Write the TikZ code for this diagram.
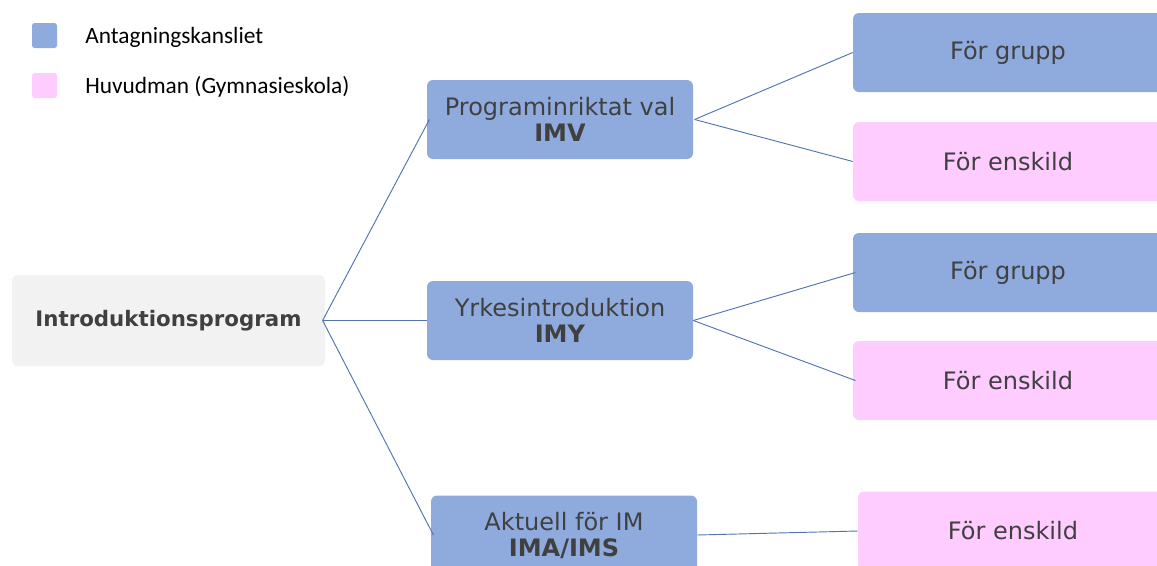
\documentclass[tikz,border=0pt]{standalone}
\usepackage{fontspec}
\setmainfont{DejaVu Sans}
\newfontfamily\legendfont{Carlito}
\definecolor{boxblue}{HTML}{8FAADC}
\definecolor{boxpink}{HTML}{FFCCFF}
\definecolor{boxgray}{HTML}{F2F2F2}
\definecolor{linkblue}{HTML}{5273B0}
\definecolor{txt}{HTML}{404040}
\tikzset{
  base/.style={rounded corners=4.5pt, inner sep=0pt, align=center, text=txt, font=\fontsize{18}{19.5}\selectfont},
  midbox/.style={base, fill=boxblue, minimum width=199.5pt, minimum height=59.25pt},
  bluebox/.style={base, fill=boxblue, minimum width=232.5pt, minimum height=59.25pt},
  pinkbox/.style={base, fill=boxpink, minimum width=232.5pt, minimum height=59.25pt},
  rootbox/.style={base, fill=boxgray, minimum width=234.75pt, minimum height=68.25pt, font=\fontsize{16}{19}\selectfont\bfseries},
  link/.style={draw=linkblue, line width=0.7pt},
  legsq/.style={rounded corners=2pt, minimum width=18.75pt, minimum height=18.75pt, inner sep=0pt},
  legtxt/.style={anchor=west, text=black, inner sep=0pt, font=\legendfont\fontsize{17.5}{20}\selectfont}
}
\begin{document}
\begin{tikzpicture}[x=0.75pt, y=-0.75pt]
\useasboundingbox (0,0) rectangle (1157,565);
\clip (0,0) rectangle (1157,565);
% legend
\node[legsq, fill=boxblue] (lb) at (44.5,35.5) {};
\node[legtxt] (lbt) at (85,37) {Antagningskansliet};
\node[legsq, fill=boxpink] (lp) at (44.5,85.5) {};
\node[legtxt] (lpt) at (85,87) {Huvudman (Gymnasieskola)};
% nodes
\node[rootbox] (intro) at (168.5,320.5) {Introduktionsprogram};
\node[midbox] (imv) at (560,119.5) {Programinriktat val\\\textbf{IMV}};
\node[midbox] (imy) at (560,320.5) {Yrkesintroduktion\\\textbf{IMY}};
\node[midbox] (ima) at (564,535) {Aktuell för IM\\\textbf{IMA/IMS}};
\node[bluebox] (g1) at (1008,52.5) {För grupp};
\node[pinkbox] (e1) at (1008,161.5) {För enskild};
\node[bluebox] (g2) at (1008,272.5) {För grupp};
\node[pinkbox] (e2) at (1008,380.5) {För enskild};
\node[pinkbox] (e3) at (1013,531) {För enskild};
% connectors
\coordinate (hub) at ([xshift=-2pt]intro.east);
\draw[link] (hub) -- ([xshift=2pt]imv.west);
\draw[link] (hub) -- (imy.west);
\draw[link] (hub) -- ([xshift=2pt]ima.west);
\draw[link] ([xshift=1pt]imv.east) -- (g1.west);
\draw[link] ([xshift=1pt]imv.east) -- (e1.west);
\draw[link] (imy.east) -- ([xshift=2pt]g2.west);
\draw[link] (imy.east) -- ([xshift=2pt]e2.west);
\draw[link] (ima.east) -- (e3.west);
\end{tikzpicture}
\end{document}
